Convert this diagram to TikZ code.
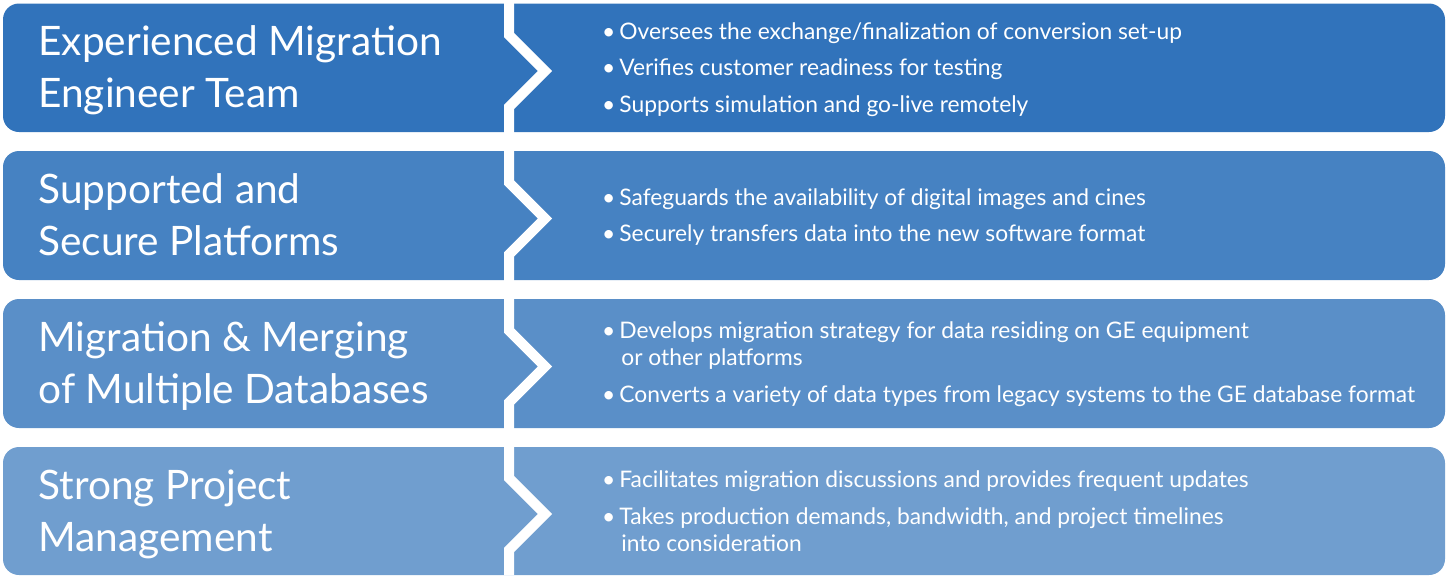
\documentclass[tikz,border=0pt]{standalone}
\usepackage{fontspec}
\setmainfont{Lato}
\definecolor{row_a}{RGB}{49,115,187}
\definecolor{row_b}{RGB}{70,130,194}
\definecolor{row_c}{RGB}{90,143,200}
\definecolor{row_d}{RGB}{112,158,207}
\newcommand\blt{\llap{\textbullet\hspace{2pt}}}

\begin{document}
\begin{tikzpicture}[x=0.5pt,y=-0.5pt]
    \tikzstyle{band}=[rounded corners=8pt]
    \tikzstyle{cut}=[draw=white, line width=5pt, miter limit=10]
    \tikzstyle{title}=[anchor=base west, inner sep=0pt, text=white, font=\fontsize{20.3}{24}\selectfont]
    \tikzstyle{item}=[anchor=base west, inner sep=0pt, text=white, font=\fontsize{11.4}{13}\selectfont]

    \useasboundingbox (0,0) rectangle (1446,575);

    % the four bands
    \fill[band,row_a] (3,3.5) rectangle (1445,132);
    \fill[band,row_b] (3,151) rectangle (1445,280);
    \fill[band,row_c] (3,299) rectangle (1445,428);
    \fill[band,row_d] (3,447) rectangle (1445,575);

    % white cut with the arrow points
    \coordinate (top) at (509,0);
    \coordinate (bot) at (509,575);
    \draw[cut] (top) -- (509,35) -- (545,71) -- (509,107)
                     -- (509,182.5) -- (545,218.5) -- (509,254.5)
                     -- (509,330.5) -- (545,366.5) -- (509,402.5)
                     -- (509,478) -- (545,514) -- (509,550) -- (bot);

    \node[title] (t1a) at (38,55)  {Experienced Migration};
    \node[title] (t1b) at (38,107) {Engineer Team};
    \node[title] (t2a) at (38,203) {Supported and};
    \node[title] (t2b) at (38,255) {Secure Platforms};
    \node[title] (t3a) at (38,351) {Migration \& Merging};
    \node[title] (t3b) at (38,403) {of Multiple Databases};
    \node[title] (t4a) at (38,499) {Strong Project};
    \node[title] (t4b) at (38,551) {Management};

    \node[item] (b1a) at (619,39)  {\blt Oversees the exchange/finalization of conversion set-up};
    \node[item] (b1b) at (619,75)  {\blt Verifies customer readiness for testing};
    \node[item] (b1c) at (619,112) {\blt Supports simulation and go-live remotely};
    \node[item] (b2a) at (619,205) {\blt Safeguards the availability of digital images and cines};
    \node[item] (b2b) at (619,241) {\blt Securely transfers data into the new software format};
    \node[item] (b3a) at (619,338) {\blt Develops migration strategy for data residing on GE equipment};
    \node[item] (b3x) at (621,365) {or other platforms};
    \node[item] (b3b) at (619,402) {\blt Converts a variety of data types from legacy systems to the GE database format};
    \node[item] (b4a) at (619,487) {\blt Facilitates migration discussions and provides frequent updates};
    \node[item] (b4b) at (619,524) {\blt Takes production demands, bandwidth, and project timelines};
    \node[item] (b4x) at (621,551) {into consideration};
\end{tikzpicture}
\end{document}
